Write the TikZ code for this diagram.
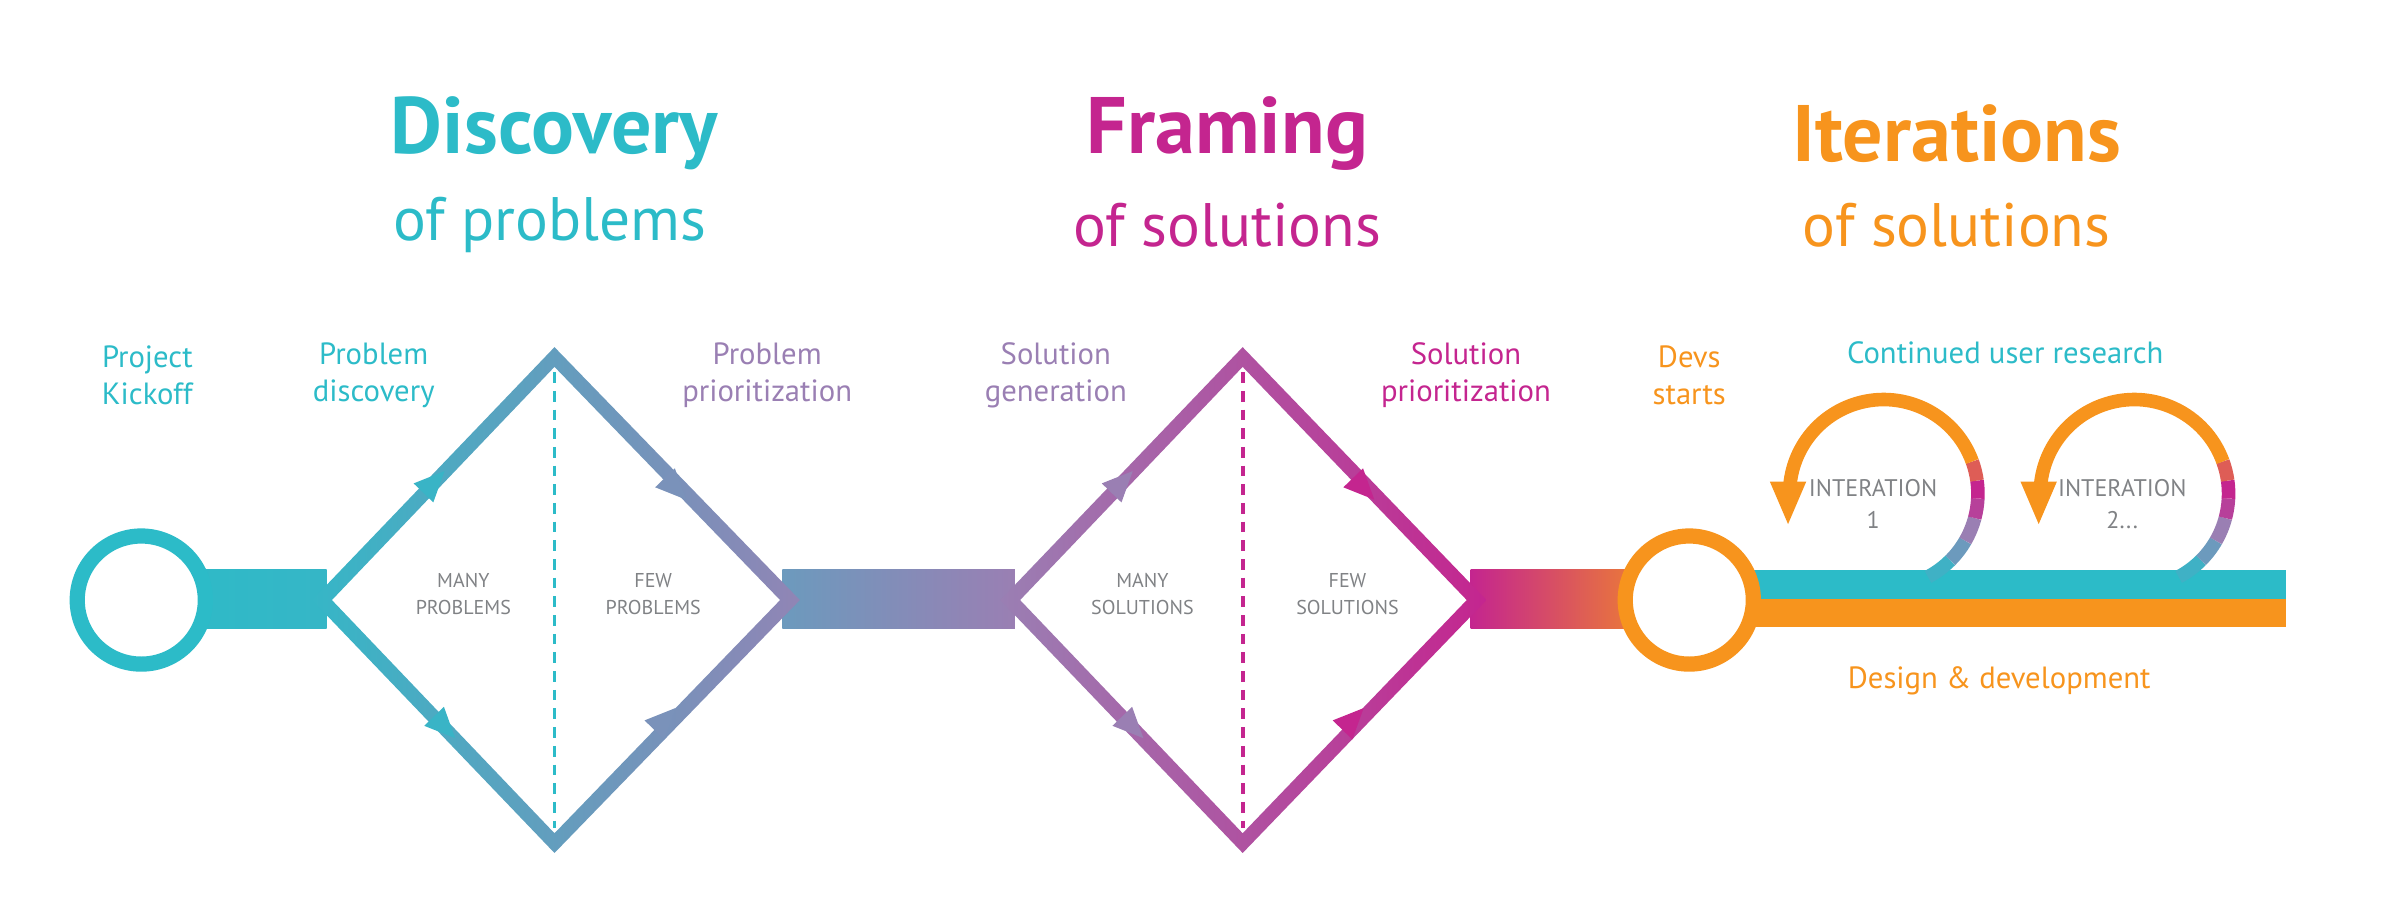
\documentclass[tikz,border=0pt]{standalone}
\usepackage{fontspec}
\usetikzlibrary{calc}
\setmainfont{PT Sans}
\definecolor{cteal}{HTML}{2CBBC8}
\definecolor{cmag}{HTML}{C4258F}
\definecolor{corange}{HTML}{F7941D}
\definecolor{cpurple}{HTML}{9A7FB3}
\definecolor{cgray}{HTML}{808285}
\definecolor{cblue}{HTML}{6C9ABD}
\begin{document}
\begin{tikzpicture}[x=0.02cm,y=-0.02cm,
  lbl/.style={font=\fontsize{11.5}{14}\selectfont,align=center},
  inner/.style={font=\fontsize{7.5}{10}\selectfont,align=center,text=cgray},
  ttl/.style={font=\fontsize{30}{34}\selectfont\bfseries},
  sub/.style={font=\fontsize{23}{26}\selectfont},
  ring/.style={line width=5.7pt,fill=white},
  loop/.style={line width=5.1pt},
  dotline/.style={line width=1.4pt,dash pattern=on 4pt off 3pt}]
\useasboundingbox (0,0) rectangle (1568,604);
% titles
\node[ttl,text=cteal] (t1) at (365,88) {Discovery};
\node[sub,text=cteal] (s1) at (362,148) {of problems};
\node[ttl,text=cmag] (t2) at (808,88) {Framing};
\node[sub,text=cmag] (s2) at (808,148) {of solutions};
\node[ttl,text=corange] (t3) at (1288,88) {Iterations};
\node[sub,text=corange] (s3) at (1288,148) {of solutions};
% labels
\node[lbl,text=cteal] (l1) at (97,247) {Project\\Kickoff};
\node[lbl,text=cteal] (l2) at (246,247) {Problem\\discovery};
\node[lbl,text=cpurple] (l3) at (505,247) {Problem\\prioritization};
\node[lbl,text=cpurple] (l4) at (695,247) {Solution\\generation};
\node[lbl,text=cmag] (l5) at (965,247) {Solution\\prioritization};
\node[lbl,text=corange] (l6) at (1112,247) {Devs\\starts};
\node[lbl,text=cteal] (l7) at (1320,232) {Continued user research};
\node[lbl,text=corange] (l8) at (1316,448) {Design \& development};
% bars
\shade[left color=cteal,right color=cteal!85!cblue] (93,375) rectangle (215,414);
\shade[left color=cblue,right color=cpurple] (515,375) rectangle (668,414);
\shade[left color=cmag,right color=corange] (968,375) rectangle (1112,414);
\fill[cteal] (1112,375) rectangle (1505,394);
\fill[corange] (1112,394) rectangle (1505,413);
% diamond 1
\shade[even odd rule,left color=cteal!85!cblue,right color=cpurple!80!cblue]
  (205.5,395)--(365,228.5)--(526.5,395)--(365,561.5)--cycle
  (218.5,395)--(365,241.5)--(513.5,395)--(365,548.5)--cycle;
\draw[cteal,dotline] (365,245)--(365,545);
% diamond 2
\shade[even odd rule,left color=cpurple,right color=cmag]
  (658.5,395)--(818,228.5)--(978.5,395)--(818,561.5)--cycle
  (671.5,395)--(818,241.5)--(965.5,395)--(818,548.5)--cycle;
\draw[cmag,dotline] (818,245)--(818,545);
% arrowheads
\newcommand\ahead[4]{\fill[#4,shift={(#1,#2)},rotate=#3] (11,0)--(-9,9)--(-9,-9)--cycle;}
\ahead{285}{318}{46}{cteal!80!cblue}
\ahead{292}{478}{-46}{cteal!80!cblue}
\ahead{444}{321}{-46}{cblue!70!cpurple}
\ahead{437}{474}{46}{cblue!70!cpurple}
\ahead{738}{318}{46}{cpurple}
\ahead{745}{478}{-46}{cpurple}
\ahead{897}{321}{-46}{cmag}
\ahead{890}{474}{46}{cmag}
% inner labels
\node[inner] (m1) at (305,391) {MANY\\PROBLEMS};
\node[inner] (f1) at (430,391) {FEW\\PROBLEMS};
\node[inner] (m2) at (752,391) {MANY\\SOLUTIONS};
\node[inner] (f2) at (887,391) {FEW\\SOLUTIONS};
% circles
\node[circle,draw=cteal,ring,minimum size=48] (c1) at (93,395) {};
\node[circle,draw=corange,ring,minimum size=48] (c2) at (1112,395) {};
% loops
\foreach \cx/\nm in {1240/a,1405/b}{
  \coordinate (o\nm) at (\cx,325);
  \foreach \a/\b/\c in {62/45/cteal!70!cblue, 45/30/cblue, 30/15/cpurple, 15/3/cmag!70!cpurple, 3/-8/cmag, -8/-20/cmag!50!corange}{
    \draw[loop,\c] (o\nm) ++(\a:62) arc[start angle=\a,end angle=\b,radius=62];}
  \draw[loop,corange] (o\nm) ++(-20:62) arc[start angle=-20,end angle=-176,radius=62];
  \fill[corange] ($(o\nm)+(-51,-8)$) -- ($(o\nm)+(-75,-8)$) -- ($(o\nm)+(-63,20)$) -- cycle;
}
\node[inner,font=\fontsize{9}{12}\selectfont] (i1) at (1233,332) {INTERATION\\1};
\node[inner,font=\fontsize{9}{12}\selectfont] (i2) at (1397,332) {INTERATION\\2...};
\end{tikzpicture}
\end{document}
